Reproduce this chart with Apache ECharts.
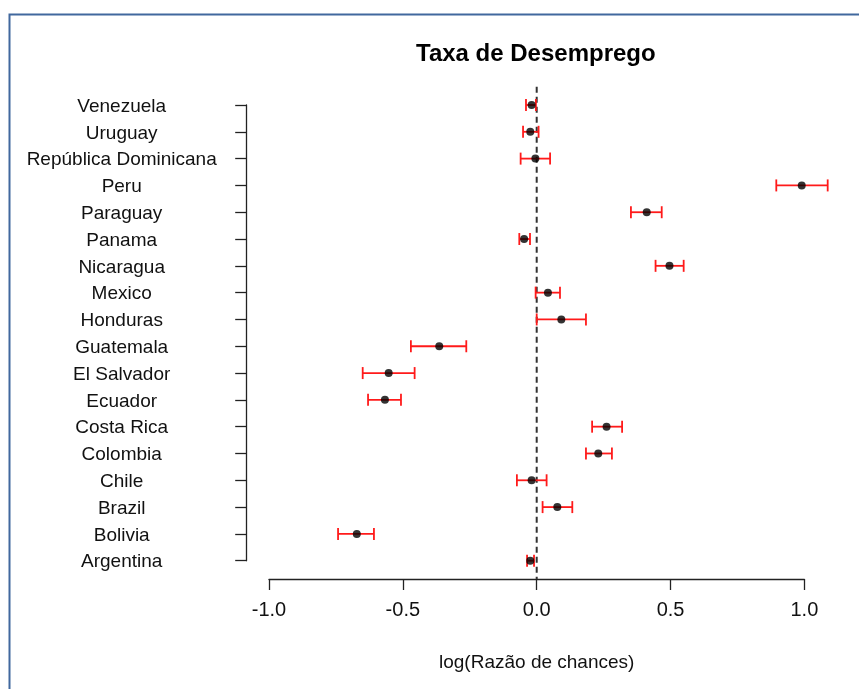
<!DOCTYPE html>
<html>
<head>
<meta charset="utf-8">
<script src="https://cdn.jsdelivr.net/npm/echarts@6/dist/echarts.min.js"></script>
<style>
  html, body { margin: 0; padding: 0; background: #fff; }
  #chart { width: 859px; height: 689px; }
</style>
</head>
<body>
<div id="chart"></div>
<script>
// Countries, bottom to top as they appear on the y axis
const countries = ['Argentina', 'Bolivia', 'Brazil', 'Chile', 'Colombia', 'Costa Rica',
  'Ecuador', 'El Salvador', 'Guatemala', 'Honduras', 'Mexico', 'Nicaragua', 'Panama',
  'Paraguay', 'Peru', 'República Dominicana', 'Uruguay', 'Venezuela'];

// log odds ratio estimates and their confidence limits
const estimate = [-0.024, -0.672, 0.077, -0.019, 0.230, 0.261,
  -0.567, -0.553, -0.364, 0.092, 0.042, 0.496, -0.047,
  0.411, 0.990, -0.005, -0.024, -0.019];
const lower = [-0.036, -0.742, 0.022, -0.074, 0.184, 0.207,
  -0.630, -0.650, -0.470, 0.000, -0.004, 0.444, -0.065,
  0.352, 0.895, -0.060, -0.051, -0.040];
const upper = [-0.010, -0.608, 0.133, 0.037, 0.281, 0.319,
  -0.507, -0.456, -0.263, 0.184, 0.087, 0.549, -0.025,
  0.467, 1.087, 0.050, 0.007, -0.003];

const xTicks = [-1, -0.5, 0, 0.5, 1];

const FONT = '"Liberation Sans", Arial, sans-serif';

const chart = echarts.init(document.getElementById('chart'), null, { renderer: 'canvas' });

const barData = countries.map((c, i) => [lower[i], upper[i], i]);
const pointData = countries.map((c, i) => [estimate[i], i]);

chart.setOption({
  animation: false,
  backgroundColor: '#ffffff',
  title: {
    text: 'Taxa de Desemprego',
    left: 416,
    top: 42,
    padding: 0,
    textStyle: { fontFamily: FONT, fontSize: 24, fontWeight: 'bold', color: '#000' }
  },
  graphic: [{
    type: 'rect',
    shape: { x: 9.5, y: 14.5, width: 900, height: 720 },
    style: { fill: 'none', stroke: '#41689e', lineWidth: 2 },
    silent: true
  }],
  grid: { left: 269, right: 54.6, top: 105, bottom: 128.3 },
  xAxis: {
    type: 'value',
    min: xTicks[0],
    max: xTicks[xTicks.length - 1],
    interval: 0.5,
    offset: 18.3,
    splitLine: { show: false },
    axisLine: { show: true, onZero: false, lineStyle: { color: '#222', width: 1.3 } },
    axisTick: { show: true, length: 11, lineStyle: { color: '#222', width: 1.3 } },
    axisLabel: {
      margin: 21, fontFamily: FONT, fontSize: 20, color: '#111',
      formatter: v => v.toFixed(1)
    },
    name: 'log(Razão de chances)',
    nameLocation: 'middle',
    nameGap: 74,
    nameTextStyle: { fontFamily: FONT, fontSize: 19, color: '#111' }
  },
  yAxis: {
    type: 'category',
    data: countries,
    boundaryGap: false,
    offset: 22.3,
    splitLine: { show: false },
    axisLine: { show: true, onZero: false, lineStyle: { color: '#222', width: 1.3 } },
    axisTick: { show: true, length: 11.5, interval: 0, lineStyle: { color: '#222', width: 1.3 } },
    axisLabel: {
      interval: 0, margin: 125, align: 'center',
      verticalAlign: 'top', lineHeight: 3,
      fontFamily: FONT, fontSize: 19, color: '#111'
    }
  },
  series: [
    {
      // reference line at zero, spanning the full plotting region
      type: 'custom',
      silent: true,
      clip: false,
      data: [[0]],
      renderItem: function (params, api) {
        const p0 = api.coord([api.value(0), 0]);
        const p1 = api.coord([api.value(0), 1]);
        const step = p0[1] - p1[1];
        const top = api.coord([api.value(0), countries.length - 1])[1] - 0.68 * step;
        const bottom = p0[1] + 0.68 * step;
        return {
          type: 'line',
          shape: { x1: p0[0], y1: top, x2: p0[0], y2: bottom },
          style: { stroke: '#333', lineWidth: 2, lineDash: [6, 4] }
        };
      }
    },
    {
      // confidence intervals with end caps
      type: 'custom',
      silent: true,
      clip: false,
      data: barData,
      renderItem: function (params, api) {
        const a = api.coord([api.value(0), api.value(2)]);
        const b = api.coord([api.value(1), api.value(2)]);
        const h = 6;
        const st = { stroke: '#ff1a1a', lineWidth: 1.8 };
        return {
          type: 'group',
          children: [
            { type: 'line', shape: { x1: a[0], y1: a[1], x2: b[0], y2: b[1] }, style: st },
            { type: 'line', shape: { x1: a[0], y1: a[1] - h, x2: a[0], y2: a[1] + h }, style: st },
            { type: 'line', shape: { x1: b[0], y1: b[1] - h, x2: b[0], y2: b[1] + h }, style: st }
          ]
        };
      }
    },
    {
      type: 'scatter',
      silent: true,
      data: pointData,
      symbol: 'circle',
      symbolSize: 8,
      itemStyle: { color: '#000' },
      z: 5
    }
  ]
});
</script>
</body>
</html>
